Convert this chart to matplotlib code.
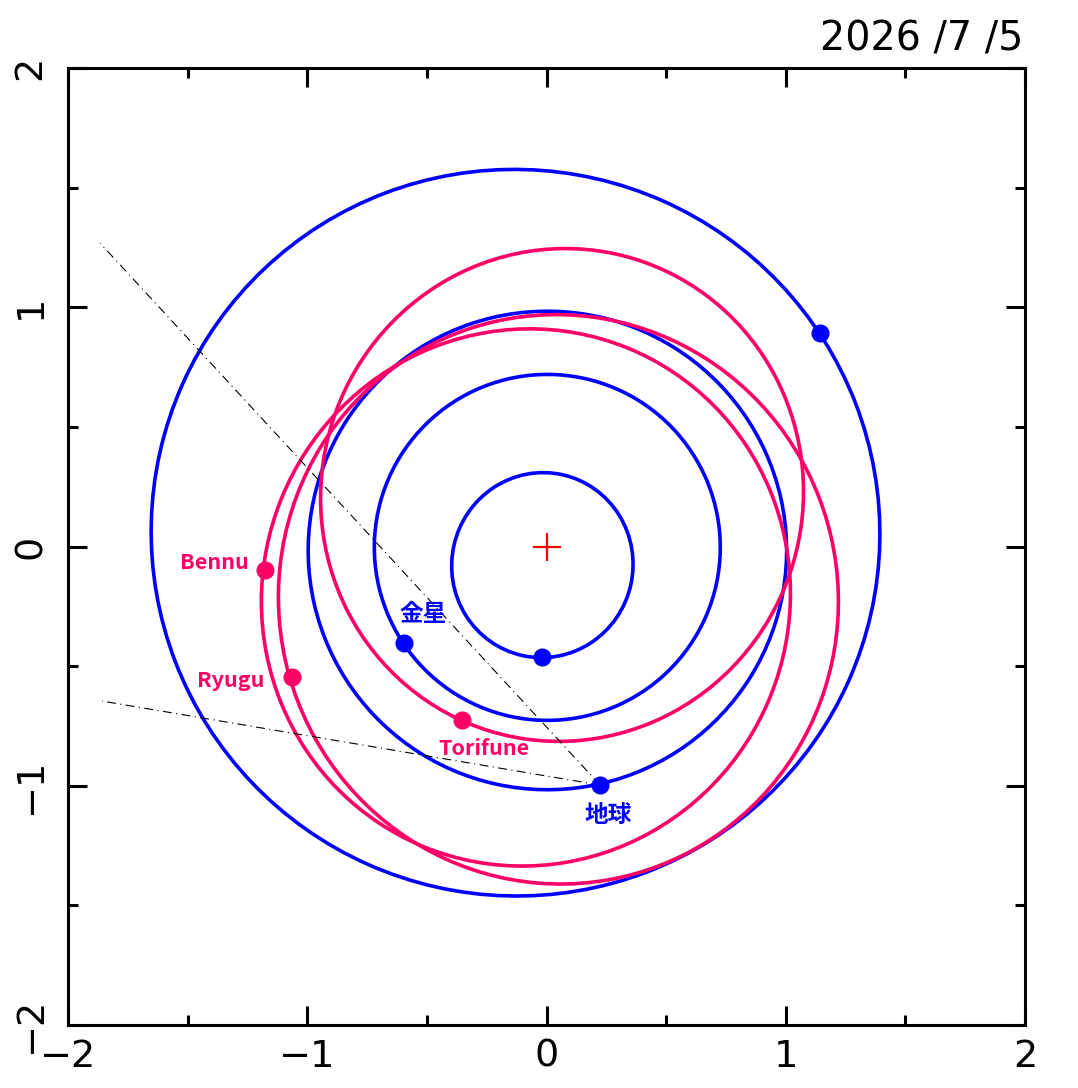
import matplotlib
matplotlib.use("Agg")
import matplotlib.pyplot as plt
import numpy as np
from matplotlib.patches import Ellipse

# 軌道要素 (a [au], e, 近日点黄経 [deg])
planet_names = ["水星", "金星", "地球", "火星"]
planet_a = [0.387, 0.723, 1.000, 1.524]
planet_e = [0.206, 0.007, 0.017, 0.093]
planet_peri = [77.5, 131.5, 102.9, 336.0]

ast_names = ["Bennu", "Ryugu", "Torifune"]
ast_a = [1.126, 1.191, 1.032]
ast_e = [0.204, 0.190, 0.218]
ast_peri = [68.0, 102.7, 253.2]

# 2026/7/5 の位置
planet_x = [-0.019, -0.596, 0.224, 1.143]
planet_y = [-0.462, -0.403, -0.997, 0.892]
ast_x = [-1.177, -1.064, -0.353]
ast_y = [-0.098, -0.545, -0.725]

# ラベル
planet_labels = ["金星", "地球"]
planet_label_x = [-0.515, 0.257]
planet_label_y = [-0.282, -1.123]
ast_label_x = [-1.387, -1.321, -0.262]
ast_label_y = [-0.066, -0.558, -0.845]

# 地球からの方向線の端
dir_end_x = [-1.866, -1.858]
dir_end_y = [1.268, -0.646]

date_text = "2026 /7 /5"

BLUE = "#0000ff"
PINK = "#ff0066"


def orbit_patch(a, e, peri, color):
    th = np.radians(peri)
    cx, cy = -a * e * np.cos(th), -a * e * np.sin(th)
    b = a * np.sqrt(1 - e ** 2)
    return Ellipse((cx, cy), 2 * a, 2 * b, angle=peri, fill=False,
                   edgecolor=color, linewidth=2.6)


fig = plt.figure(figsize=(10.78, 10.88), dpi=100)
ax = fig.add_axes([68 / 1078, 1 - 1025 / 1088, 957 / 1078, 957 / 1088])
ax.set_xlim(-2, 2)
ax.set_ylim(-2, 2)

for a, e, p in zip(planet_a, planet_e, planet_peri):
    ax.add_patch(orbit_patch(a, e, p, BLUE))
for a, e, p in zip(ast_a, ast_e, ast_peri):
    ax.add_patch(orbit_patch(a, e, p, PINK))

# 方向線
for xe, ye in zip(dir_end_x, dir_end_y):
    ax.plot([planet_x[2], xe], [planet_y[2], ye], color="black", lw=0.8,
            linestyle=(0, (8, 4, 1, 4)))

ax.plot(planet_x, planet_y, "o", color=BLUE, ms=12, zorder=5)
ax.plot(ast_x, ast_y, "o", color=PINK, ms=12, zorder=5)
ax.plot([0], [0], "+", color="red", ms=20, mew=1.6, zorder=5)

lab_font = ["Noto Sans CJK JP", "DejaVu Sans"]
for t, x, y in zip(planet_labels, planet_label_x, planet_label_y):
    ax.text(x, y, t, color=BLUE, fontsize=17, fontweight="bold",
            family=lab_font, ha="center", va="center")
for t, x, y in zip(ast_names, ast_label_x, ast_label_y):
    ax.text(x, y, t, color=PINK, fontsize=15.5, fontweight="bold",
            family=lab_font, ha="center", va="center")

# 軸
ax.set_xticks([-2, -1, 0, 1, 2])
ax.set_yticks([-2, -1, 0, 1, 2])
ax.set_xticks(np.arange(-1.5, 2, 1.0), minor=True)
ax.set_yticks(np.arange(-1.5, 2, 1.0), minor=True)
ax.tick_params(which="both", direction="in", top=True, right=True, width=2.2,
               color="black", labelsize=27.5)
ax.tick_params(which="major", length=13.7)
ax.tick_params(which="minor", length=7.2)
ax.tick_params(axis="x", pad=10)
ax.tick_params(axis="y", pad=14)
for lab in ax.get_yticklabels():
    lab.set_rotation(90)
    lab.set_va("center")
for s in ax.spines.values():
    s.set_linewidth(2.2)

fig.text(1023 / 1078, 1 - 50 / 1088, date_text, ha="right", va="baseline",
         fontsize=28.5)

fig.savefig("out.png", dpi=100)
